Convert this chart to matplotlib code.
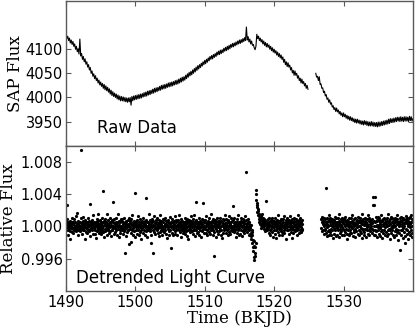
import numpy as np
import matplotlib
matplotlib.use("Agg")
import matplotlib.pyplot as plt

# --- raw SAP flux, 0.125 d cadence, two segments split by a data gap ---
raw_start_a = 1490.0
raw_flux_a = [
    4131, 4122, 4127, 4118, 4123, 4113, 4119, 4110,
    4116, 4106, 4111, 4100, 4106, 4095, 4101, 4090,
    4121, 4086, 4091, 4079, 4085, 4074, 4080, 4069,
    4074, 4063, 4068, 4057, 4062, 4050, 4055, 4044,
    4049, 4039, 4045, 4035, 4040, 4030, 4036, 4026,
    4032, 4023, 4029, 4019, 4027, 4016, 4024, 4014,
    4021, 4011, 4018, 4007, 4015, 4004, 4012, 4002,
    4009, 4000, 4007, 3997, 4005, 3995, 4003, 3993,
    4002, 3993, 4001, 3992, 4000, 3991, 3999, 3990,
    3999, 3991, 4000, 3984, 4002, 3993, 4003, 3995,
    4004, 3996, 4005, 3997, 4006, 3998, 4007, 3999,
    4008, 4001, 4010, 4002, 4011, 4003, 4013, 4005,
    4014, 4006, 4015, 4008, 4017, 4009, 4019, 4011,
    4020, 4012, 4021, 4014, 4023, 4015, 4025, 4017,
    4026, 4018, 4027, 4019, 4028, 4021, 4030, 4022,
    4031, 4023, 4032, 4024, 4033, 4026, 4035, 4027,
    4036, 4028, 4038, 4030, 4040, 4032, 4042, 4034,
    4043, 4036, 4046, 4039, 4049, 4042, 4052, 4045,
    4054, 4047, 4057, 4050, 4060, 4053, 4063, 4056,
    4066, 4059, 4068, 4062, 4071, 4065, 4074, 4068,
    4077, 4070, 4079, 4073, 4082, 4076, 4085, 4079,
    4087, 4080, 4089, 4083, 4091, 4085, 4094, 4088,
    4096, 4089, 4098, 4091, 4099, 4093, 4102, 4096,
    4104, 4097, 4106, 4099, 4108, 4101, 4110, 4104,
    4112, 4105, 4113, 4107, 4115, 4109, 4117, 4111,
    4119, 4112, 4120, 4114, 4122, 4116, 4124, 4118,
    4146, 4119, 4126, 4115, 4121, 4111, 4117, 4108,
    4110, 4103, 4099, 4106, 4131, 4122, 4127, 4118,
    4123, 4115, 4120, 4111, 4117, 4108, 4114, 4105,
    4112, 4104, 4109, 4100, 4106, 4097, 4103, 4094,
    4100, 4092, 4097, 4088, 4094, 4085, 4091, 4082,
    4088, 4079, 4084, 4073, 4079, 4068, 4074, 4064,
    4072, 4063, 4067, 4057, 4062, 4051, 4056, 4046,
    4055, 4046, 4050, 4040, 4045, 4035, 4040, 4030,
    4038, 4029, 4033, 4024, 4029, 4019, 4025, 4017,
]
raw_start_b = 1526.0
raw_flux_b = [
    4050, 4042, 4044, 4035, 4043, 4027, 4028, 4019,
    4020, 4010, 4013, 4003, 4006, 3996, 3999, 3990,
    3995, 3986, 3989, 3980, 3983, 3975, 3979, 3971,
    3978, 3970, 3974, 3966, 3971, 3963, 3968, 3960,
    3968, 3960, 3965, 3957, 3963, 3955, 3961, 3953,
    3960, 3952, 3958, 3950, 3956, 3948, 3955, 3947,
    3955, 3947, 3953, 3945, 3952, 3944, 3951, 3943,
    3952, 3944, 3951, 3942, 3950, 3941, 3949, 3941,
    3950, 3941, 3949, 3940, 3948, 3940, 3948, 3939,
    3949, 3940, 3949, 3941, 3950, 3942, 3951, 3943,
    3952, 3944, 3953, 3945, 3955, 3946, 3956, 3948,
    3956, 3948, 3957, 3949, 3958, 3950, 3959, 3951,
    3959, 3950, 3960, 3951, 3959, 3950, 3960, 3951,
    3960, 3951, 3959, 3950, 3961, 3952, 3960, 3951,
    3956,
]
raw_cadence = 0.125

# --- detrended flux, deviation from 1 in units of 1e-4, 0.04 d cadence ---
det_start_a = 1490.0
det_dev_a = [
    2, -4, 6, -1, 9, 27, -5, 0, 3, -10, 5, -2, 1, 7, -6, 3, -15, 2, 4, -2, 11, -7, 5, -1, -3,
    -8, 3, 5, -2, 9, -4, 0, 6, -3, 1, 4, -6, 13, -1, 2, -3, 17, -5, 2, 7, -11, 0, 4, -4, -2,
    5, -6, 1, 10, -3, 95, 4, -9, 0, 3, -2, 7, -5, 12, 1, -4, 3, -16, 6, -1, 8, -7, 2, 5, -3,
    -1, 5, -8, 3, 10, -4, 1, -6, 7, 0, -12, 3, 28, -3, 6, 2, -2, 8, -1, 4, -5, 0, 14, -9, 2,
    6, -2, 3, -9, 4, -5, 0, 5, -14, 2, 9, -1, -6, 4, 0, 7, -3, 16, -8, 1, 3, -4, 8, -2, -7,
    3, -9, 6, 1, -4, 10, -2, 5, 44, -7, 0, 4, -13, 7, -3, 2, -6, 9, 0, -4, 5, -10, 3, -1, 15,
    -5, 2, 8, -3, 4, -8, 1, 11, -1, -6, 5, 2, -12, 6, -4, 1, 8, -5, 0, 6, 30, -2, 4, -9, 9,
    1, -7, 4, -2, 10, -5, 3, 6, -10, 0, 4, -3, 15, -1, 6, -13, 2, 7, -4, 1, -8, 5, -2, 9, -3,
    7, -4, 1, 9, -2, 3, -9, 5, -1, -6, 11, 0, -33, 4, -3, 7, 2, -12, 6, -1, 0, -7, 8, -4, 3,
    -5, 10, 1, -22, 4, -3, 7, -1, 9, -8, -19, 3, -5, 2, 14, -10, 0, 6, -2, 7, -6, 3, -13, 5, 1,
    42, -4, 6, -1, 4, -9, 2, 8, -5, 0, 13, -3, 3, -11, 6, -1, 1, -7, 9, -4, 2, 5, -15, 0, 7,
    -2, 4, -8, 10, 0, -4, 6, 2, -10, 7, -1, 3, 35, -6, 1, 8, -3, 5, -13, 1, 6, -1, -5, 16, -3,
    3, -6, 8, 0, -3, 6, -10, 2, -20, 5, -1, 9, -33, 2, -4, 7, -7, 1, 13, -2, 4, -9, 0, 6, -3,
    -1, 8, -5, 3, 10, -8, 1, 4, -2, 8, -12, 2, 6, -1, -7, 14, 0, -4, 3, 7, -10, 1, -2, 9, -6,
    5, -3, 0, 9, -7, 3, -1, 11, -4, 0, 7, -9, 3, -14, 7, 2, -3, 6, -1, 8, -6, 4, -11, 1, 12,
    -4, 3, -27, 6, -1, 4, -8, 9, 1, -3, 5, -11, 0, 7, -2, 3, -6, 13, 1, -9, 6, -1, 8, -5, 2,
    7, -10, 2, -3, 8, 0, -5, 4, 14, -7, 1, -1, 6, -13, 3, 9, -2, -4, 7, 0, -8, 5, 2, -1, -6,
    1, 6, -3, 10, -9, 3, 0, -6, 7, -2, 4, -12, 9, 0, -4, 6, -15, 2, 5, -1, 8, -7, 3, -3, 13,
    -4, 0, 7, -6, 4, -1, 9, -9, 2, 6, -3, 14, -5, 0, 6, -12, 3, -1, 8, -4, 30, 5, -8, 1, -2,
    6, -7, 3, 10, -2, 0, -10, 4, 7, -4, 1, -13, 6, -1, 3, 9, -6, 29, 2, -3, 8, -8, 0, 5, -1,
    -3, 8, -1, 4, -8, 13, 1, -5, 6, -11, 3, 0, 7, -3, -1, 10, -7, 4, 0, -9, 6, 2, -4, 15, -2,
    4, -2, 7, -10, 1, 9, -4, 0, 6, -7, -36, 3, 8, -1, -13, 5, 2, -3, 10, -6, 0, 7, -1, 3, -9,
    -1, 7, -6, 3, 11, -3, 5, -10, 0, 7, -4, 2, -14, 6, 0, 9, -8, 3, -2, 8, -5, 1, 14, -3, 4,
    2, -8, 9, -1, 4, -5, 6, 0, -11, 8, -3, 5, 0, -7, 13, -1, 3, -9, 6, 1, -4, 10, -2, 7, -6,
    25, -3, 1, 8, -7, 4, -1, 10, -5, 2, 6, -13, 3, 0, -3, 9, -8, 5, 0, -4, 14, -1, 3, -10, 5,
    -2, 6, -9, 3, 0, 10, -4, 7, -1, -12, 5, 2, -6, 9, 0, -3, 7, -8, 4, 13, -1, -5, 3, 8, -3,
    68, 1, -7, 4, 9, -3, 6, -1, -10, 3, -5, 5, -9, 0, -2, -12, 2, -8, -15, -4, -11, -20, -7, -17, -25,
    -30, -24, -38, -18, -42, -33, -26, -36, -21, 45, 40, 33, 29, 24, 27, 18, 21, 14, 19, 9, 16, 6, 13, 3, 11,
    7, 13, 2, 10, -2, 8, 4, 15, -1, 7, 3, 11, -3, 5, 9, 0, 4, -6, 8, 2, -3, 7, 32, -1, 3,
    -4, 5, 9, -2, 3, -8, 6, 0, 11, -5, 2, -10, 6, 0, 8, -3, 4, -7, 10, 1, -1, 7, -13, 3, -4,
    7, -1, 3, -9, 10, 0, -4, 6, -14, 3, 8, -2, 0, 5, -7, 14, 1, -3, 7, -10, 2, 4, -1, 9, -6,
    -3, 8, -7, 2, 4, -11, 9, -1, 6, -4, 1, 13, -8, 3, 0, -2, 6, -15, 3, 8, -5, 0, 10, -1, 5,
    4, -5, 8, 0, -9, 6, 2, -3, 13, -7, 4, -1, 7, -14, 1, 9, -3, 5, -1, -8, 7, 3, -4, 11, 0,
    -6, 2, 9, -3, 5, -1, -10, 7, 3, -5, 14, 0, -2, 6, -8, 3, 8, -4, 1, 10, -7, 4, -1, 6, -3,
    3, -5, 8,
]
det_start_b = 1526.76
det_dev_b = [
    9, -2, 12, 5, -6, 10,
    3, 7, -4, 11, 0, -9, 6, 2, -5, 9, -3, 5, 48, -8, 3, 10, -1, -12, 7, 1, -6, 8, -4, 14, -10,
    5, -7, 2, 11, -3, 7, -10, 3, 0, 9, -5, 6, -14, 1, 8, -2, 4, -9, 12, -4, 3, 6, -12, 0, 10,
    -2, 6, -10, 3, 10, -5, 1, 7, -13, 3, 15, -3, 5, -8, 0, 9, -6, 2, 11, -1, -11, 7, 4, -3, 8,
    9, -4, 3, -11, 7, 0, 12, -7, 2, 5, -3, 8, -9, 3, -16, 7, 1, -5, 10, -1, 4, -10, 6, 2, -8,
    -5, 10, 1, -8, 4, 7, -2, 14, -12, 3, 6, -4, 9, 0, -7, 11, -3, 4, -13, 6, 2, -6, 8, -1, 5,
    3, -9, 7, 12, -4, 1, -11, 5, 8, -6, 0, 10, -2, 4, -8, 16, 3, -14, 7, -3, 9, -5, 2, 6, -10,
    -7, 4, 11, -3, 7, -13, 2, 6, -1, 9, -5, 3, -9, 14, 0, -4, 7, 10, -11, 3, -2, 8, -6, 5, 1,
    6, -3, 9, -8, 4, 26, -5, 37, 1, -11, 27, 7, 36, -4, 5, -10, 12, 0, -6, 8, 2, -13, 7, -1, 12,
    -4, 8, 2, -9, 10, -2, 5, -12, 3, 14, -6, 1, 8, -4, -14, 7, 3, 9, -8, 0, 11, -5, 4, -11, 6,
    9, -1, -7, 5, 3, -12, 10, 0, 7, -4, 15, -9, 2, 7, -3, 4, -15, 9, -5, 3, 12, -2, -8, 6, 1,
    -4, 11, 4, -10, 7, -1, 2, 8, -13, 5, -6, 10, 0, -3, 7, -11, 14, 3, -7, 9, -4, 3, -17, 6, 1,
    5, -8, 10, -29, 3, 7, -4, 12, -10, 1, 6, -5, 8, -14, 3, 11, -2, -7, 9, 0, -12, 6, 4, -20, 13,
    -3, 8, -9, 4, 11, -5, 1, -16, 7, 2, 10, -7, 5, -1, 12, -11, 3, 6, -4, 14, -8, 0, 9, -13, 6,
]
det_cadence = 0.04

raw_t_a = raw_start_a + raw_cadence * np.arange(len(raw_flux_a))
raw_t_b = raw_start_b + raw_cadence * np.arange(len(raw_flux_b))
det_t = np.concatenate([det_start_a + det_cadence * np.arange(len(det_dev_a)),
                        det_start_b + det_cadence * np.arange(len(det_dev_b))])
det_flux = 1.0 + 1e-4 * np.array(det_dev_a + det_dev_b)

fig = plt.figure(figsize=(4.15, 3.30), dpi=100)
ax1 = fig.add_axes([0.159, 0.5585, 0.836, 0.4385])
ax2 = fig.add_axes([0.159, 0.118, 0.836, 0.4405], sharex=ax1)

ax1.plot(raw_t_a, raw_flux_a, color="black", lw=0.8)
ax1.plot(raw_t_b, raw_flux_b, color="black", lw=0.8)
ax2.plot(det_t, det_flux, "o", color="black", ms=2.3, mew=0)

ax1.set_xlim(1490, 1540)
ax1.set_ylim(3900, 4200)
ax1.set_yticks([3950, 4000, 4050, 4100])
ax2.set_ylim(0.992, 1.010)
ax2.set_yticks([0.996, 1.000, 1.004, 1.008])
ax2.set_yticklabels(["0.996", "1.000", "1.004", "1.008"])
ax2.set_xticks([1490, 1500, 1510, 1520, 1530])

for ax in (ax1, ax2):
    for s in ax.spines.values():
        s.set_color("#5a5a5a")
        s.set_linewidth(1.0)
    ax.tick_params(direction="in", length=3.5, width=0.8, color="#5a5a5a",
                   top=True, right=True, labelsize=10.5, pad=2.5)
ax1.tick_params(labelbottom=False)

serif = {"family": "DejaVu Serif", "size": 12}
ax1.set_ylabel("SAP Flux", **serif)
ax2.set_ylabel("Relative Flux", **serif)
ax2.set_xlabel("Time (BKJD)", labelpad=0, **serif)
ax1.yaxis.set_label_coords(-0.12, 0.5)
ax2.yaxis.set_label_coords(-0.14, 0.5)

ax1.text(0.089, 0.088, "Raw Data", transform=ax1.transAxes, fontsize=12)
ax2.text(0.029, 0.053, "Detrended Light Curve", transform=ax2.transAxes, fontsize=12)

fig.savefig("out.png", dpi=100)
